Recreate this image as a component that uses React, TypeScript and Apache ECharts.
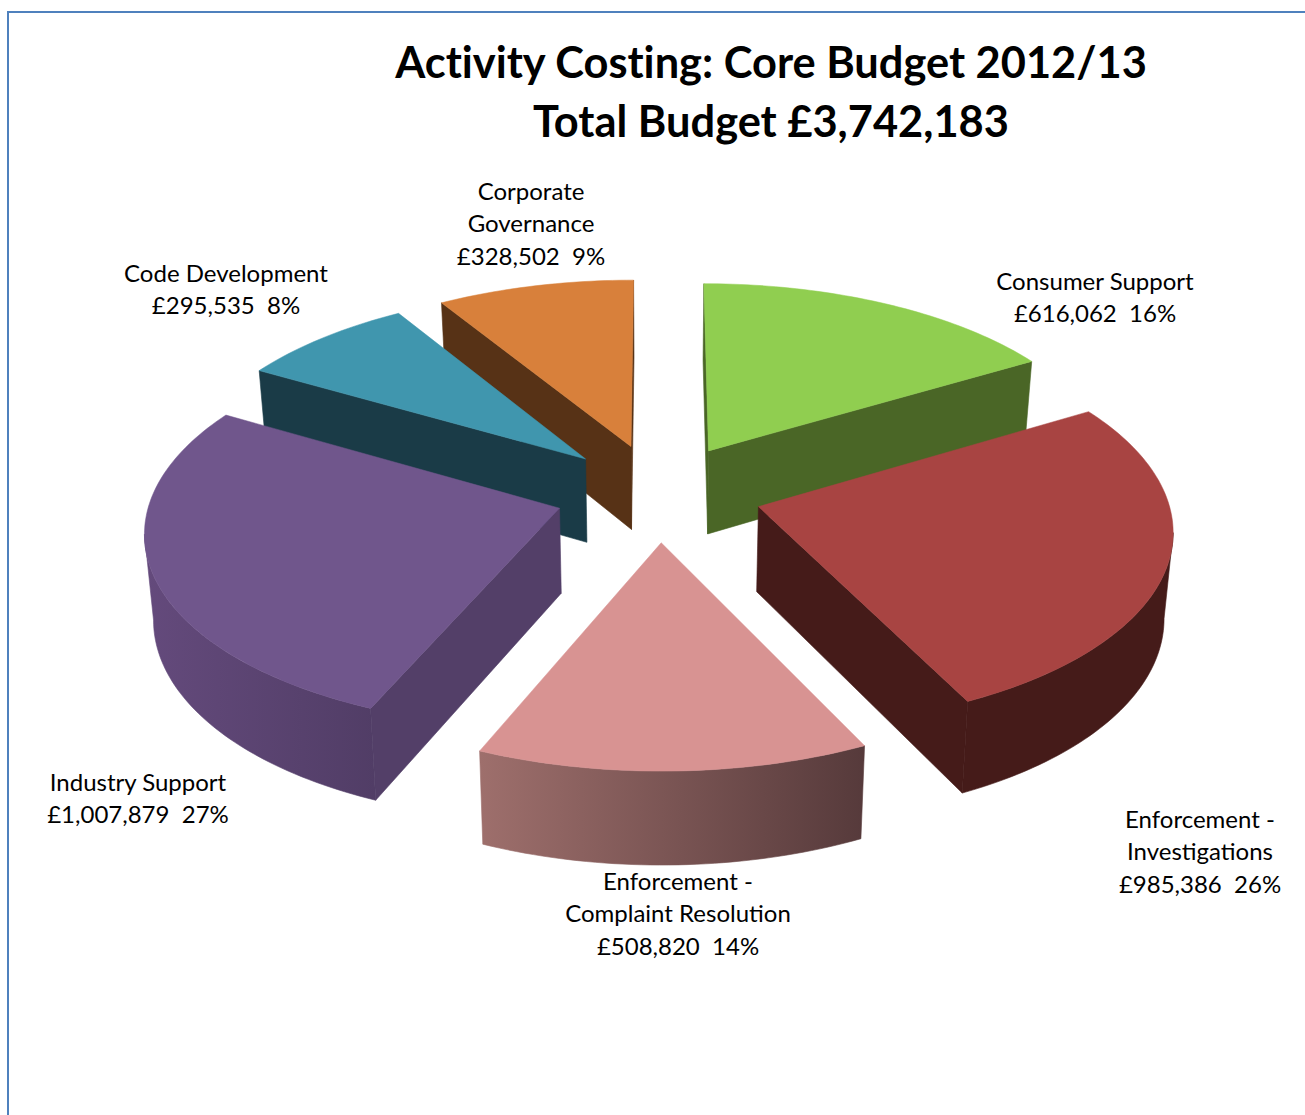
import React, { useEffect, useRef } from "react";
import * as echarts from "echarts";

const categories = [
  "Consumer Support",
  "Enforcement - Investigations",
  "Enforcement - Complaint Resolution",
  "Industry Support",
  "Code Development",
  "Corporate Governance",
];
const budgets = [616062, 985386, 508820, 1007879, 295535, 328502];
const labelLines = [
  ["Consumer Support"],
  ["Enforcement -", "Investigations"],
  ["Enforcement -", "Complaint Resolution"],
  ["Industry Support"],
  ["Code Development"],
  ["Corporate", "Governance"],
];
const titleLines = ["Activity Costing: Core Budget 2012/13", "Total Budget £3,742,183"];

const topColors = ["#90CE50", "#A84442", "#D89392", "#70568C", "#4096AE", "#D8803B"];
const wallColors = ["#4A6626", "#451B19", "#5A3C3D", "#533F68", "#1A3B47", "#573216"];
const rimStops: [string, string][] = [
  ["#4A6626", "#4A6626"],
  ["#451B19", "#451B19"],
  ["#9E6F6C", "#563A3B"],
  ["#644A7C", "#513D66"],
  ["#1A3B47", "#1A3B47"],
  ["#573216", "#573216"],
];
// Label block centres: x of the block, y of its first line.
const labelAnchors = [
  [1095, 280],
  [1200, 818],
  [678, 880],
  [138, 781],
  [226, 272],
  [531, 190],
];

const FONT = "Lato";
const total = budgets.reduce((a, b) => a + b, 0);

// Perspective camera for the tilted pie: y runs toward the viewer, z runs down the extrusion.
const CX = 658.5;
const CY = 492.5;
const SCALE_X = 408;
const SCALE_Y = 193;
const DEPTH = 84.5;
const PERSPECTIVE = 0.105;
const DEPTH_PERSPECTIVE = 0.08;
const TAPER = 0.018;
const EXPLODE = 0.2537;
const DEG = Math.PI / 180;

function project(x: number, y: number, z: number): [number, number] {
  const w = 1 - PERSPECTIVE * y;
  return [
    CX + (SCALE_X * x) / (w * (1 + TAPER * z)),
    CY + (SCALE_Y * y) / w + (DEPTH * z) / (1 - DEPTH_PERSPECTIVE * y),
  ];
}

function arcPoints(ox: number, oy: number, a0: number, a1: number, z: number) {
  const pts: [number, number][] = [];
  const n = Math.max(2, Math.ceil(Math.abs(a1 - a0) / 0.02));
  for (let i = 0; i <= n; i++) {
    const a = a0 + ((a1 - a0) * i) / n;
    pts.push(project(ox + Math.sin(a), oy - Math.cos(a), z));
  }
  return pts;
}

// Angle at which the projected rim reaches its widest point on one side of the pie.
function silhouetteAngle(ox: number, oy: number, from: number, to: number, sign: number) {
  let best = from;
  let bestX = -Infinity;
  for (let deg = from; deg <= to; deg += 0.5) {
    const a = deg * DEG;
    const x = sign * project(ox + Math.sin(a), oy - Math.cos(a), 0)[0];
    if (x > bestX) {
      bestX = x;
      best = deg;
    }
  }
  return best * DEG;
}

// Slice angles run clockwise from twelve o'clock.
const sliceAngles: [number, number][] = [];
budgets.reduce((acc, v) => {
  const next = acc + (v / total) * Math.PI * 2;
  sliceAngles.push([acc, next]);
  return next;
}, 0);

// Painter's order: slices further back are listed first.
const drawOrder = budgets
  .map((_, i) => i)
  .sort((a, b) => {
    const mid = (k: number) => (sliceAngles[k][0] + sliceAngles[k][1]) / 2;
    return Math.cos(mid(b)) - Math.cos(mid(a));
  });

function renderSlice(params: any, api: any) {
  const idx = api.value(0) as number;
  const [a0, a1] = sliceAngles[idx];
  const mid = (a0 + a1) / 2;
  const ox = EXPLODE * Math.sin(mid);
  const oy = -EXPLODE * Math.cos(mid);
  const apexTop = project(ox, oy, 0);
  const apexBottom = project(ox, oy, 1);
  const rimTop = arcPoints(ox, oy, a0, a1, 0);
  const rimBottom = arcPoints(ox, oy, a0, a1, 1);

  const children: any[] = [];

  // The rim is visible between the two silhouette angles on the viewer's side.
  const f0 = Math.max(a0, silhouetteAngle(ox, oy, 80, 125, 1));
  const f1 = Math.min(a1, silhouetteAngle(ox, oy, 235, 280, -1));
  if (f1 > f0) {
    const up = arcPoints(ox, oy, f0, f1, 0);
    const down = arcPoints(ox, oy, f0, f1, 1).reverse();
    const fill = new echarts.graphic.LinearGradient(
      0, 0, 1, 0,
      [
        { offset: 0, color: rimStops[idx][0] },
        { offset: 1, color: rimStops[idx][1] },
      ],
      false
    );
    children.push({
      type: "polygon",
      shape: { points: [...up, ...down] },
      style: { fill, stroke: fill, lineWidth: 0.6 },
    });
  }

  // A radial wall is drawn only if its outward normal faces the camera.
  const toViewerX = -ox;
  const toViewerY = 1 / PERSPECTIVE - oy;
  const wall = (angle: number, normal: number, top: [number, number], bottom: [number, number]) => {
    const nx = Math.sin(angle + normal);
    const ny = -Math.cos(angle + normal);
    if (nx * toViewerX + ny * toViewerY <= 0) return;
    children.push({
      type: "polygon",
      shape: { points: [apexTop, top, bottom, apexBottom] },
      style: { fill: wallColors[idx], stroke: wallColors[idx], lineWidth: 0.6 },
    });
  };
  wall(a0, -Math.PI / 2, rimTop[0], rimBottom[0]);
  wall(a1, Math.PI / 2, rimTop[rimTop.length - 1], rimBottom[rimBottom.length - 1]);

  children.push({
    type: "polygon",
    shape: { points: [apexTop, ...rimTop] },
    style: { fill: topColors[idx], stroke: topColors[idx], lineWidth: 0.5 },
  });

  return { type: "group", children };
}

function pounds(v: number) {
  return "£" + v.toLocaleString("en-GB");
}

const LINE_STEP = 32.5;
const labelTexts = categories.flatMap((_, i) => {
  const lines = [
    ...labelLines[i],
    `${pounds(budgets[i])}  ${Math.round((budgets[i] / total) * 100)}%`,
  ];
  return lines.map((text, j) => ({
    type: "text",
    x: labelAnchors[i][0],
    y: labelAnchors[i][1] + j * LINE_STEP,
    style: {
      text,
      fill: "#000",
      font: `24px ${FONT}`,
      textAlign: "center",
      textVerticalAlign: "middle",
    },
  }));
});

const frame = [
  { type: "line", shape: { x1: 7, y1: 12, x2: 1305, y2: 12 } },
  { type: "line", shape: { x1: 8, y1: 11, x2: 8, y2: 1115 } },
].map((l) => ({ ...l, style: { stroke: "#4F81BD", lineWidth: 2 } }));

export default function App() {
  const ref = useRef<HTMLDivElement>(null);
  useEffect(() => {
    const chart = echarts.init(ref.current!, undefined, { renderer: "svg" });
    chart.setOption({
      animation: false,
      backgroundColor: "#fff",
      title: {
        text: titleLines.join("\n"),
        left: 771,
        top: 31,
        padding: 0,
        textAlign: "center",
        textStyle: {
          fontFamily: FONT,
          fontWeight: "bold",
          fontSize: 43.4,
          lineHeight: 59,
          color: "#000",
        },
      },
      graphic: { elements: [...frame, ...labelTexts] },
      series: [
        {
          type: "custom",
          coordinateSystem: "none",
          silent: true,
          renderItem: renderSlice,
          data: drawOrder.map((i) => ({ name: categories[i], value: [i, budgets[i]] })),
        },
      ],
    });
    return () => chart.dispose();
  }, []);
  return (
    <div
      ref={ref}
      style={{
        position: "absolute",
        left: 0,
        top: 0,
        width: 1305,
        height: 1115,
        fontVariantLigatures: "none",
      }}
    />
  );
}
